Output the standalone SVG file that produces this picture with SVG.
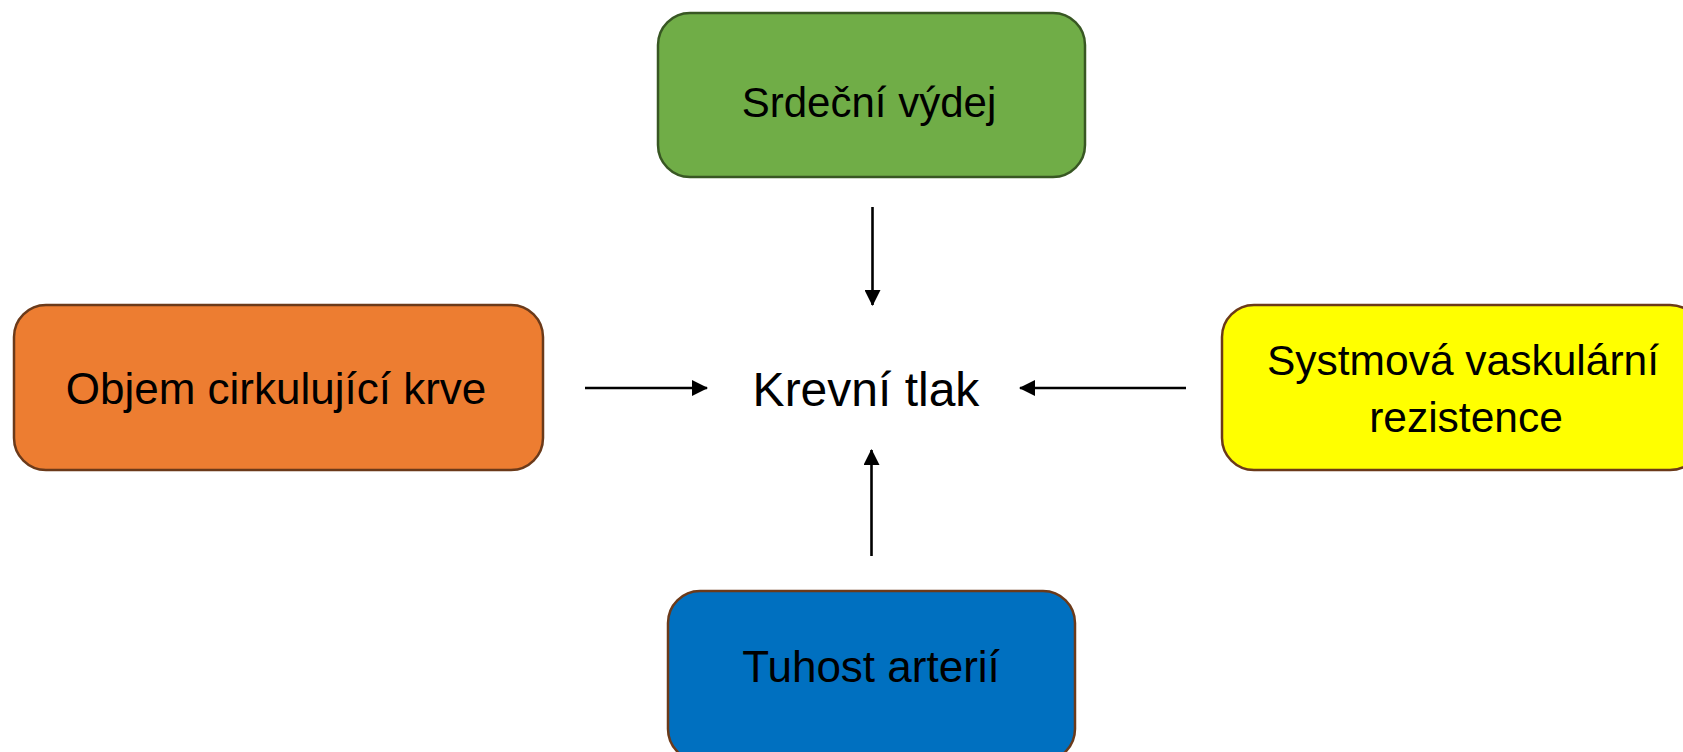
<svg xmlns="http://www.w3.org/2000/svg" width="1683" height="752" viewBox="0 0 1683 752">
<style>
.box{stroke-width:2.5}
.lbl{font-family:"Liberation Sans",Arial,sans-serif;fill:#000;text-anchor:middle}
.conn{stroke:#000;stroke-width:2.6;fill:none}
</style>
<defs>
<marker id="ah" markerWidth="16" markerHeight="16" refX="15" refY="8" orient="auto" markerUnits="userSpaceOnUse" viewBox="0 0 16 16">
<path d="M0,0 L16,8 L0,16 Z" fill="#000"/>
</marker>
</defs>
<rect width="1683" height="752" fill="#fff"/>
<g id="srdecni-vydej">
<rect class="box" x="658" y="13" width="427" height="164" rx="32" fill="#70AD47" stroke="#385723"/>
<text class="lbl" x="869" y="117" font-size="42">Srdeční výdej</text>
</g>
<g id="objem-krve">
<rect class="box" x="14" y="305" width="529" height="165" rx="32" fill="#ED7D31" stroke="#6B3A1A"/>
<text class="lbl" x="276" y="404" font-size="44">Objem cirkulující krve</text>
</g>
<g id="vaskularni-rezistence">
<rect class="box" x="1222" y="305" width="480" height="165" rx="32" fill="#FFFF00" stroke="#6B3A1A"/>
<text class="lbl" x="1463" y="375" font-size="42.5">Systmová vaskulární</text>
<text class="lbl" x="1466" y="432" font-size="42.5">rezistence</text>
</g>
<g id="tuhost-arterii">
<rect class="box" x="668" y="591" width="407" height="170" rx="32" fill="#0070C0" stroke="#6B3A1A"/>
<text class="lbl" x="871" y="682" font-size="44">Tuhost arterií</text>
</g>
<g id="krevni-tlak">
<text class="lbl" x="866" y="406" font-size="48">Krevní tlak</text>
</g>
<g id="connectors">
<line class="conn" x1="872.5" y1="207" x2="872.5" y2="305" marker-end="url(#ah)"/>
<line class="conn" x1="585" y1="388" x2="707" y2="388" marker-end="url(#ah)"/>
<line class="conn" x1="1186" y1="388" x2="1020" y2="388" marker-end="url(#ah)"/>
<line class="conn" x1="871.5" y1="556" x2="871.5" y2="450" marker-end="url(#ah)"/>
</g>
</svg>
